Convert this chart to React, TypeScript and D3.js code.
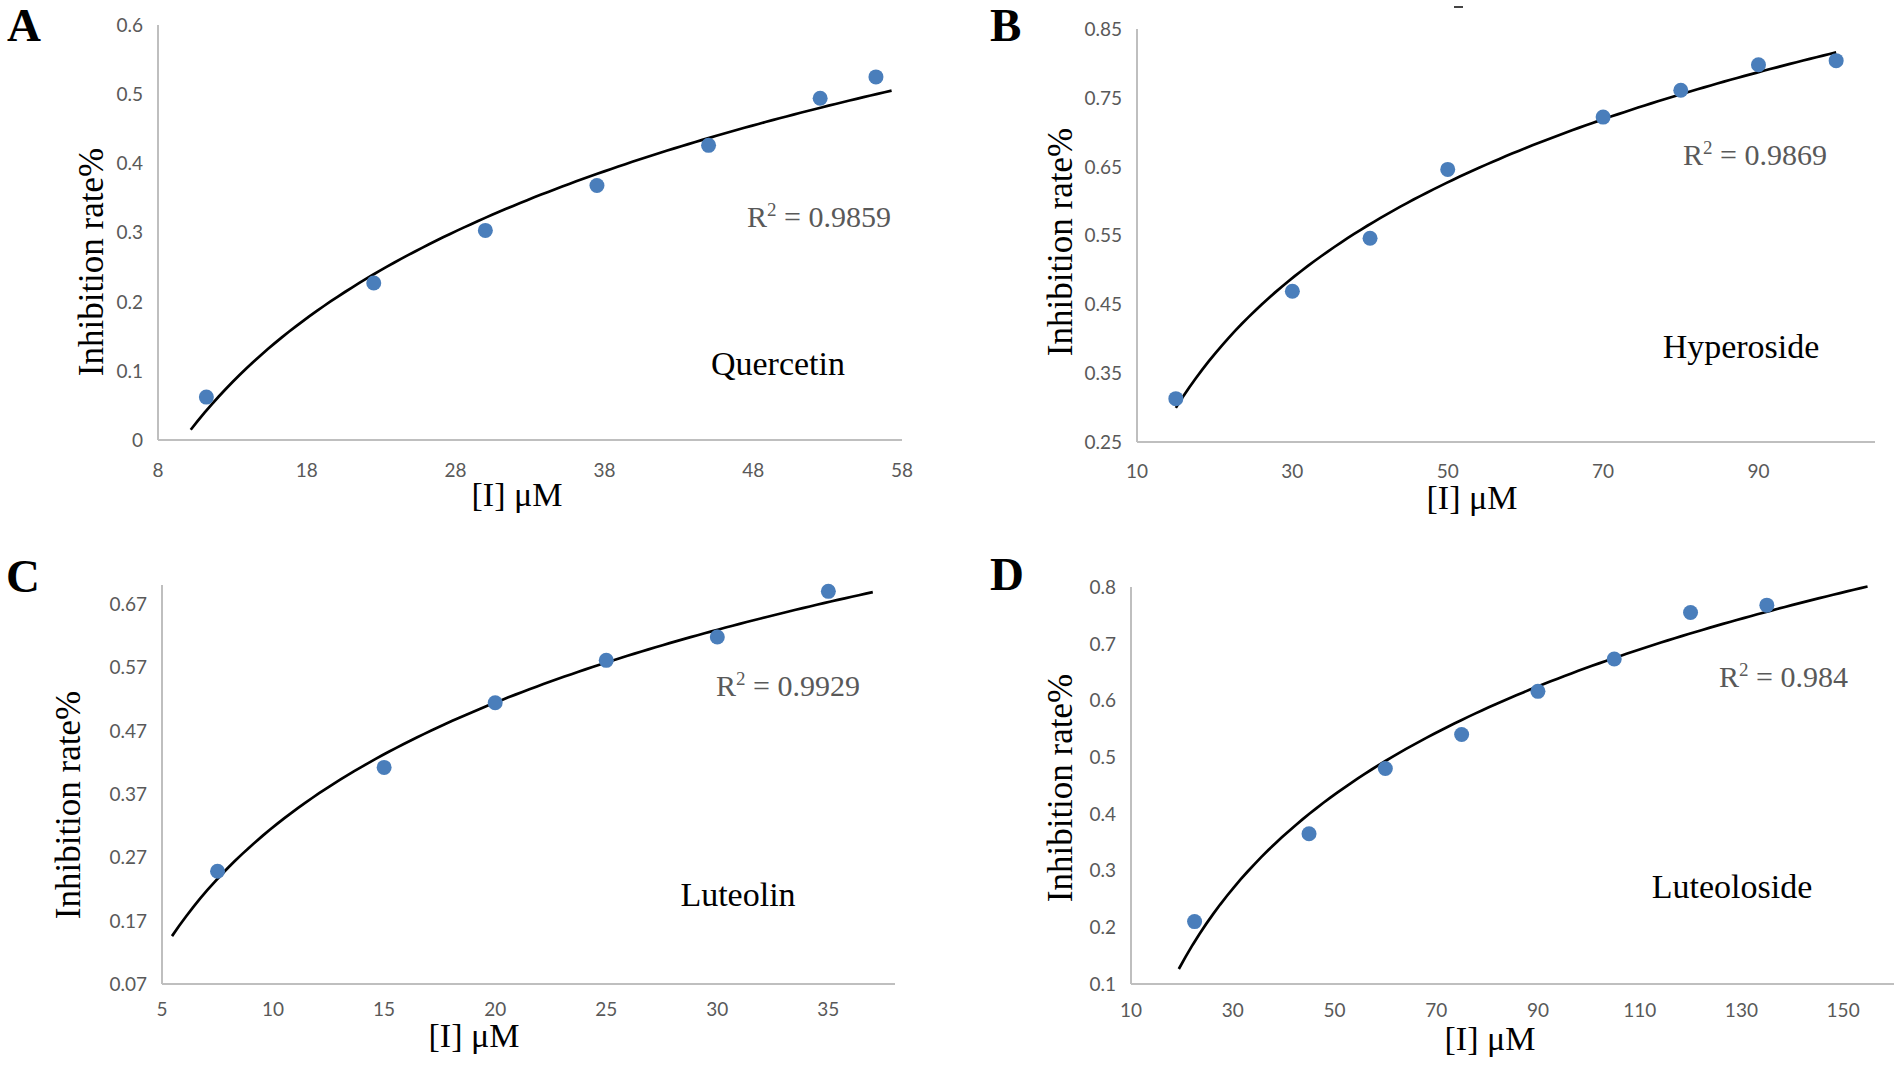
import React, { useMemo } from "react";
import * as d3 from "d3";

// ── Data ──────────────────────────────────────────────────────
const QUERCETIN_X = [11.25, 22.5, 30, 37.5, 45, 52.5, 56.25];
const QUERCETIN_Y = [0.062, 0.227, 0.303, 0.368, 0.426, 0.494, 0.525];

const HYPEROSIDE_X = [15, 30, 40, 50, 70, 80, 90, 100];
const HYPEROSIDE_Y = [0.313, 0.469, 0.546, 0.646, 0.722, 0.761, 0.798, 0.804];

const LUTEOLIN_X = [7.5, 15, 20, 25, 30, 35];
const LUTEOLIN_Y = [0.248, 0.412, 0.514, 0.581, 0.618, 0.69];

const LUTEOLOSIDE_X = [22.5, 45, 60, 75, 90, 105, 120, 135];
const LUTEOLOSIDE_Y = [0.21, 0.365, 0.48, 0.54, 0.616, 0.673, 0.755, 0.768];

// x-extent of each logarithmic trendline
const TREND_A = [10.2, 57.3];
const TREND_B = [15, 100];
const TREND_C = [5.45, 37];
const TREND_D = [19.4, 154.8];

// ── Tick labels ───────────────────────────────────────────────
const A_X_TICKS = [8, 18, 28, 38, 48, 58];
const A_Y_TICKS = [0, 0.1, 0.2, 0.3, 0.4, 0.5, 0.6];
const B_X_TICKS = [10, 30, 50, 70, 90];
const B_Y_TICKS = [0.25, 0.35, 0.45, 0.55, 0.65, 0.75, 0.85];
const C_X_TICKS = [5, 10, 15, 20, 25, 30, 35];
const C_Y_TICKS = [0.07, 0.17, 0.27, 0.37, 0.47, 0.57, 0.67];
const D_X_TICKS = [10, 30, 50, 70, 90, 110, 130, 150];
const D_Y_TICKS = [0.1, 0.2, 0.3, 0.4, 0.5, 0.6, 0.7, 0.8];

const LETTERS = ["A", "B", "C", "D"];
const COMPOUNDS = ["Quercetin", "Hyperoside", "Luteolin", "Luteoloside"];
const R2_VALUES = ["0.9859", "0.9869", "0.9929", "0.984"];

// ── Styling ───────────────────────────────────────────────────
const W = 1902;
const H = 1067;
const SERIF = "'Liberation Serif', 'Times New Roman', serif";
const SANS = "Lato, 'Open Sans', sans-serif";
const AXIS = "#bfbfbf";
const TICK_TEXT = "#595959";
const DOT = "#4a7ebb";

// ── Panel geometry (pixel frame of each sub-chart) ────────────
interface Layout {
  left: number;
  right: number;
  top: number;
  bottom: number;
  xDomain: [number, number];
  yDomain: [number, number];
  letter: [number, number];
  r2: [number, number]; // right end, baseline
  name: [number, number]; // centre, baseline
  xTitle: [number, number]; // centre, baseline
  yTitle: [number, number]; // baseline x, centre y
  xTickY: number;
}

const LAYOUT: Layout[] = [
  {
    left: 158, right: 902, top: 25, bottom: 440,
    xDomain: [8, 58], yDomain: [0, 0.6],
    letter: [7, 41], r2: [891, 227], name: [778, 375],
    xTitle: [517, 506], yTitle: [103, 262], xTickY: 470,
  },
  {
    left: 1137, right: 1875, top: 29, bottom: 442,
    xDomain: [10, 105], yDomain: [0.25, 0.85],
    letter: [990, 41], r2: [1827, 165], name: [1741, 358],
    xTitle: [1472, 509], yTitle: [1072, 242], xTickY: 471,
  },
  {
    left: 162, right: 895, top: 585, bottom: 984,
    xDomain: [5, 38], yDomain: [0.07, 0.7],
    letter: [6, 592], r2: [860, 696], name: [738, 906],
    xTitle: [474, 1047], yTitle: [80, 805], xTickY: 1009,
  },
  {
    left: 1131, right: 1894, top: 587, bottom: 984,
    xDomain: [10, 160], yDomain: [0.1, 0.8],
    letter: [990, 590], r2: [1848, 687], name: [1732, 898],
    xTitle: [1490, 1050], yTitle: [1072, 788], xTickY: 1010,
  },
];

const SERIES = [
  { xs: QUERCETIN_X, ys: QUERCETIN_Y, trend: TREND_A, xTicks: A_X_TICKS, yTicks: A_Y_TICKS },
  { xs: HYPEROSIDE_X, ys: HYPEROSIDE_Y, trend: TREND_B, xTicks: B_X_TICKS, yTicks: B_Y_TICKS },
  { xs: LUTEOLIN_X, ys: LUTEOLIN_Y, trend: TREND_C, xTicks: C_X_TICKS, yTicks: C_Y_TICKS },
  { xs: LUTEOLOSIDE_X, ys: LUTEOLOSIDE_Y, trend: TREND_D, xTicks: D_X_TICKS, yTicks: D_Y_TICKS },
];

// Least-squares fit of y = a·ln(x) + b (Excel's logarithmic trendline)
function logFit(xs: number[], ys: number[]) {
  const lx = xs.map(Math.log);
  const mx = d3.mean(lx) as number;
  const my = d3.mean(ys) as number;
  const sxy = d3.sum(lx, (v, i) => (v - mx) * (ys[i] - my));
  const sxx = d3.sum(lx, (v) => (v - mx) * (v - mx));
  const a = sxy / sxx;
  return { a, b: my - a * mx };
}

interface PanelProps {
  index: number;
}

function Panel({ index }: PanelProps) {
  const L = LAYOUT[index];
  const S = SERIES[index];

  const x = useMemo(
    () => d3.scaleLinear().domain(L.xDomain).range([L.left, L.right]),
    [L]
  );
  const y = useMemo(
    () => d3.scaleLinear().domain(L.yDomain).range([L.bottom, L.top]),
    [L]
  );

  const trendPath = useMemo(() => {
    const { a, b } = logFit(S.xs, S.ys);
    const [x0, x1] = S.trend;
    const samples = d3.range(0, 101).map((k) => x0 + ((x1 - x0) * k) / 100);
    const line = d3
      .line<number>()
      .x((d) => x(d))
      .y((d) => y(a * Math.log(d) + b));
    return line(samples) ?? "";
  }, [S, x, y]);

  return (
    <g>
      {/* Axes */}
      <line x1={L.left} x2={L.left} y1={y(L.yDomain[1])} y2={L.bottom} stroke={AXIS} strokeWidth={2} />
      <line x1={L.left} x2={L.right} y1={L.bottom} y2={L.bottom} stroke={AXIS} strokeWidth={2} />

      {/* Y tick labels */}
      {S.yTicks.map((t) => (
        <text
          key={`y${t}`}
          x={L.left - 15}
          y={y(t)}
          dy="0.36em"
          textAnchor="end"
          fontFamily={SANS}
          fontSize={19}
          fill={TICK_TEXT}
        >
          {String(t)}
        </text>
      ))}

      {/* X tick labels */}
      {S.xTicks.map((t) => (
        <text
          key={`x${t}`}
          x={x(t)}
          y={L.xTickY}
          dy="0.36em"
          textAnchor="middle"
          fontFamily={SANS}
          fontSize={19}
          fill={TICK_TEXT}
        >
          {String(t)}
        </text>
      ))}

      {/* Trendline */}
      <path d={trendPath} fill="none" stroke="#000" strokeWidth={2.7} />

      {/* Data points */}
      {S.xs.map((v, i) => (
        <circle key={i} cx={x(v)} cy={y(S.ys[i])} r={7.5} fill={DOT} />
      ))}

      {/* Panel letter */}
      <text x={L.letter[0]} y={L.letter[1]} fontFamily={SERIF} fontWeight="bold" fontSize={47} fill="#000">
        {LETTERS[index]}
      </text>

      {/* R² */}
      <text x={L.r2[0]} y={L.r2[1]} textAnchor="end" fontFamily={SERIF} fontSize={30} fill={TICK_TEXT}>
        R
        <tspan fontSize={19} dy={-11}>2</tspan>
        <tspan dy={11}>{` = ${R2_VALUES[index]}`}</tspan>
      </text>

      {/* Compound name */}
      <text x={L.name[0]} y={L.name[1]} textAnchor="middle" fontFamily={SERIF} fontSize={34} fill="#000">
        {COMPOUNDS[index]}
      </text>

      {/* Axis titles */}
      <text x={L.xTitle[0]} y={L.xTitle[1]} textAnchor="middle" fontFamily={SERIF} fontSize={34} fill="#000">
        [I] μM
      </text>
      <text
        transform={`translate(${L.yTitle[0]},${L.yTitle[1]}) rotate(-90)`}
        textAnchor="middle"
        fontFamily={SERIF}
        fontSize={35}
        fill="#000"
      >
        Inhibition rate%
      </text>
    </g>
  );
}

export default function App() {
  return (
    <svg
      width={W}
      height={H}
      style={{ position: "absolute", left: 0, top: 0, display: "block", background: "#fff" }}
    >
      <rect x={0} y={0} width={W} height={H} fill="#fff" />
      {LAYOUT.map((_, i) => (
        <Panel key={i} index={i} />
      ))}
      {/* stray mark at the top edge of the original figure */}
      <rect x={1454} y={6} width={9} height={2} fill="#444" />
    </svg>
  );
}
